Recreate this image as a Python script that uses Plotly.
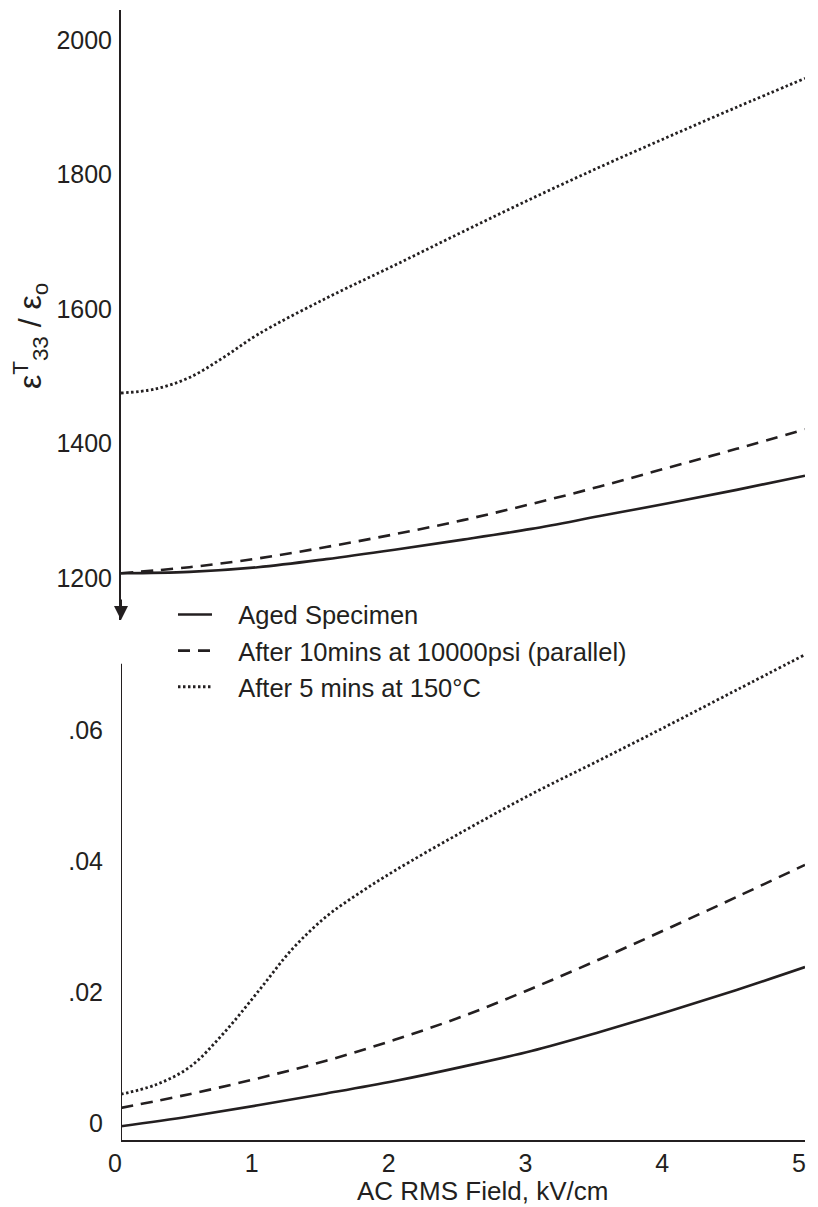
import plotly.graph_objects as go

# ---------------- data ----------------
field_half = [0, 0.5, 1, 1.5, 2, 2.5, 3, 3.5, 4, 4.5, 5]

# top panel: relative permittivity eps_T33 / eps_0
aged_perm = [1207, 1209, 1216, 1228, 1242, 1257, 1273, 1292, 1311, 1331, 1352]
press_perm = [1207, 1216, 1229, 1246, 1265, 1286, 1310, 1336, 1364, 1392, 1421]
heat_perm_x = [0, 0.25, 0.5, 0.75, 1, 1.5, 2, 2.5, 3, 3.5, 4, 4.5, 5]
heat_perm = [1475, 1481, 1498, 1528, 1562, 1616, 1665, 1715, 1764, 1811, 1856, 1900, 1943]

# bottom panel: loss tangent
aged_loss = [-0.0005, 0.0010, 0.0027, 0.0045, 0.0064, 0.0086, 0.0110, 0.0139, 0.0170, 0.0203, 0.0238]
press_loss = [0.0023, 0.0044, 0.0068, 0.0095, 0.0127, 0.0163, 0.0205, 0.0250, 0.0297, 0.0345, 0.0394]
heat_loss_x = [0, 0.25, 0.5, 0.75, 1, 1.25, 1.5, 1.75, 2, 2.5, 3, 3.5, 4, 4.5, 5]
heat_loss = [0.0044, 0.0058, 0.0085, 0.0137, 0.0200, 0.0265, 0.0315, 0.0352, 0.0385,
             0.0445, 0.0502, 0.0554, 0.0607, 0.0661, 0.0715]

series_names = ["Aged Specimen", "After 10mins at 10000psi (parallel)", "After 5 mins at 150°C"]
perm_ticks = [1200, 1400, 1600, 1800, 2000]
loss_ticks = [0, 0.02, 0.04, 0.06]
loss_ticktext = ["0", ".02", ".04", ".06"]
field_ticks = [0, 1, 2, 3, 4, 5]

# ---------------- styling ----------------
INK = "#231f20"
FONT = "Liberation Sans, Arial, sans-serif"
dashes = ["solid", "12px,8px", "2.5px,2.5px"]
widths = [2.6, 2.6, 2.8]
GAP = "\u00a0\u00a0\u00a0"  # spacing between legend sample and label

fig = go.Figure()

top_sets = [(field_half, aged_perm), (field_half, press_perm), (heat_perm_x, heat_perm)]
bot_sets = [(field_half, aged_loss), (field_half, press_loss), (heat_loss_x, heat_loss)]

for i, ((xs, ys), name, dsh, w) in enumerate(zip(top_sets, series_names, dashes, widths)):
    fig.add_trace(go.Scatter(
        x=xs, y=ys, mode="lines", name=GAP + name, legendgroup=f"g{i}",
        line=dict(color=INK, width=w, dash=dsh, shape="spline", smoothing=1.0),
        xaxis="x", yaxis="y", showlegend=True))

for i, ((xs, ys), name, dsh, w) in enumerate(zip(bot_sets, series_names, dashes, widths)):
    fig.add_trace(go.Scatter(
        x=xs, y=ys, mode="lines", name=name, legendgroup=f"g{i}",
        line=dict(color=INK, width=w, dash=dsh, shape="spline", smoothing=1.0),
        xaxis="x2", yaxis="y2", showlegend=False))

top_range = [1137.5, 2044.6]
bot_range = [-0.0026, 0.0722]

fig.update_layout(
    width=818, height=1207,
    margin=dict(l=121, r=13, t=10, b=67),
    paper_bgcolor="white", plot_bgcolor="white",
    font=dict(family=FONT, color=INK, size=25),
    xaxis=dict(domain=[0, 1], range=[0, 5], visible=False, anchor="y"),
    yaxis=dict(domain=[0.4602, 1], range=top_range, anchor="x",
               showline=True, linewidth=2, linecolor=INK,
               tickvals=perm_ticks, ticks="", showgrid=False, zeroline=False,
               tickfont=dict(size=25, color=INK), ticklabelstandoff=2),
    xaxis2=dict(domain=[0, 1], range=[0, 5], anchor="y2",
                showline=True, linewidth=2, linecolor=INK,
                tickvals=field_ticks, ticks="", showgrid=False, zeroline=False,
                tickfont=dict(size=25, color=INK), ticklabelshift=-6, ticklabelstandoff=0),
    yaxis2=dict(domain=[0, 0.4336], range=bot_range, anchor="x2",
                showline=False, tickvals=loss_ticks, ticktext=loss_ticktext,
                ticks="", showgrid=False, zeroline=False,
                tickfont=dict(size=25, color=INK), ticklabelstandoff=17),
    legend=dict(x=0.076, xanchor="left", y=0.4855, yanchor="top",
                font=dict(size=25.5, color=INK, family=FONT), itemwidth=34,
                tracegroupgap=0, bgcolor="rgba(0,0,0,0)"),
    showlegend=True,
)

# bottom y axis line (stops at the top of the data range)
fig.add_shape(type="line", xref="x2", yref="y2", x0=0, x1=0,
              y0=bot_range[0], y1=0.0701, line=dict(color=INK, width=2), layer="above")

# arrow head at bottom of top y axis
fig.add_annotation(x=0, y=top_range[0], xref="x", yref="y", ax=0, ay=-22,
                   text="", showarrow=True, arrowhead=2, arrowsize=1.4,
                   arrowwidth=2, arrowcolor=INK, standoff=0)

# axis titles
fig.add_annotation(x=-0.133, y=0.7115, xref="paper", yref="paper",
                   text="ε<sup>T</sup><sub>33</sub> / ε<sub>o</sub>",
                   textangle=-90, showarrow=False, xanchor="center", yanchor="middle",
                   font=dict(size=32, color=INK, family=FONT))
fig.add_annotation(x=0.528, y=-0.045, xref="paper", yref="paper",
                   text="AC RMS Field, kV/cm", showarrow=False,
                   xanchor="center", yanchor="middle",
                   font=dict(size=26, color=INK, family=FONT))

fig.write_html("out.html")
